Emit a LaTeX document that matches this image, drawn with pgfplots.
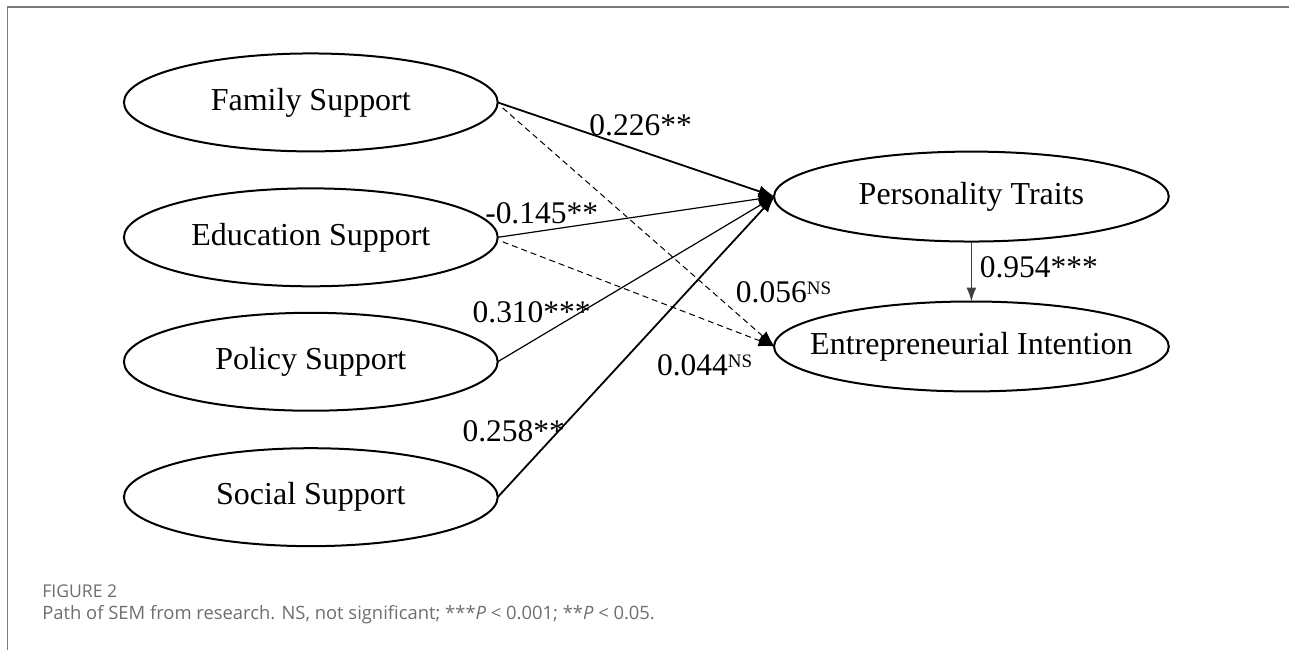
\documentclass[border=0pt]{standalone}
\usepackage{pgfplots}
\pgfplotsset{compat=1.18}
\usepackage{fontspec}
\setmainfont{Liberation Serif}
\newfontfamily\capfont{Open Sans}
\usetikzlibrary{arrows.meta}
\definecolor{capgray}{HTML}{6D6E71}
\definecolor{framegray}{HTML}{7A7A7A}
\newcommand{\NS}{\raisebox{4pt}{\fontsize{9.5}{10}\selectfont NS}}
\begin{document}
\begin{tikzpicture}
\begin{axis}[width=645pt,height=325pt,scale only axis,
  xmin=0,xmax=1290,ymin=0,ymax=650,hide axis,clip=false]
\path (axis cs:0,0) rectangle (axis cs:1290,650);
% frame
\draw[framegray,line width=0.8pt] (axis cs:7.5,0) -- (axis cs:7.5,643) -- (axis cs:1290,643);
% ellipses
\draw[line width=1pt] (axis cs:311,547.5) ellipse [x radius=187, y radius=49];
\draw[line width=1pt] (axis cs:311,412.5) ellipse [x radius=187, y radius=49];
\draw[line width=1pt] (axis cs:311,288) ellipse [x radius=187, y radius=49];
\draw[line width=1pt] (axis cs:311,152.5) ellipse [x radius=187, y radius=49];
\draw[line width=1pt] (axis cs:972,453.3) ellipse [x radius=197.5, y radius=45];
\draw[line width=1pt] (axis cs:972,303.3) ellipse [x radius=197.5, y radius=45];
% text in ellipses
\begin{scope}[font=\fontsize{16}{19}\selectfont]
\node at (axis cs:311,547.5) {Family Support};
\node at (axis cs:311,412.5) {Education Support};
\node at (axis cs:311,288) {Policy Support};
\node at (axis cs:311,152.5) {Social Support};
\node at (axis cs:972,453.3) {Personality Traits};
\node at (axis cs:972,303.3) {Entrepreneurial Intention};
\end{scope}
% paths
\addplot[black,line width=0.9pt,-{Latex[length=8pt,width=6pt]}] coordinates {(498,547.5) (775,453.3)};
\addplot[black,line width=0.6pt,-{Latex[length=8pt,width=6pt]}] coordinates {(498,412.5) (775,453.3)};
\addplot[black,line width=0.6pt,-{Latex[length=8pt,width=6pt]}] coordinates {(498,288) (775,453.3)};
\addplot[black,line width=0.9pt,-{Latex[length=8pt,width=6pt]}] coordinates {(498,152.5) (775,453.3)};
\addplot[black,line width=0.5pt,dash pattern=on 3pt off 2pt,-{Latex[length=8pt,width=6pt]}] coordinates {(503,542) (775,303.3)};
\addplot[black,line width=0.5pt,dash pattern=on 3pt off 2pt,-{Latex[length=8pt,width=6pt]}] coordinates {(503,408) (775,303.3)};
\addplot[black!75,line width=0.7pt,-{Latex[length=7pt,width=5pt]}] coordinates {(972,408.3) (972,348.3)};
% coefficients
\begin{scope}[font=\fontsize{15.75}{18}\selectfont]
\node at (axis cs:641,525) {0.226**};
\node at (axis cs:542,437) {-0.145**};
\node at (axis cs:532,338) {0.310***};
\node at (axis cs:514,218) {0.258**};
\node at (axis cs:784,358) {0.056\NS};
\node at (axis cs:705,285) {0.044\NS};
\node[anchor=west,inner sep=0pt] at (axis cs:980,383) {0.954***};
\end{scope}
% caption
\node[anchor=west,inner sep=0pt,text=capgray,font=\capfont\fontsize{8.8}{10}\selectfont] at (axis cs:42,58) {FIGURE 2};
\node[anchor=west,inner sep=0pt,text=capgray,font=\capfont\fontsize{9.2}{11}\selectfont] at (axis cs:42,35) {Path of SEM from research. NS, not significant; ***\textit{P} < 0.001; **\textit{P} < 0.05.};
\end{axis}
\end{tikzpicture}
\end{document}
